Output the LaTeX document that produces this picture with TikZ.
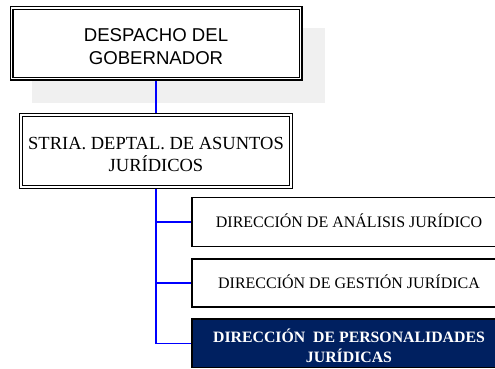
\documentclass[tikz,border=0pt]{standalone}
\usepackage{fontspec}
\setmainfont{Liberation Serif}
\newfontfamily\arialf{Liberation Sans}
\definecolor{navy}{HTML}{002060}
\definecolor{shadowgray}{HTML}{F0F0F0}
\begin{document}
\begin{tikzpicture}[x=1pt,y=-1pt,
  dbox/.style={draw=black, line width=1.1pt, double=white, double distance=1.8pt,
    fill=white, inner sep=0pt, outer sep=2pt, align=center},
  cbox/.style={draw=black, line width=1.3pt, fill=white, inner sep=0pt, outer sep=0.65pt,
    minimum width=314pt, align=center, font={\fontsize{16pt}{19pt}\selectfont}},
  link/.style={draw=blue, line width=1.3pt}]
\useasboundingbox (0,0) rectangle (495,369);
\clip (0,0) rectangle (495,369);
\fill[shadowgray] (32,28) rectangle (325,103);
\node[dbox, minimum width=289pt, minimum height=70.5pt,
  font={\arialf\fontsize{18.6pt}{23.3pt}\selectfont}] (gob) at (156,43.25)
  {\rule{0pt}{20.3pt}DESPACHO DEL\\GOBERNADOR};
\node[dbox, minimum width=270pt, minimum height=72pt,
  font={\fontsize{18.5pt}{22.4pt}\selectfont}] (sec) at (156,151)
  {\rule{0pt}{18.6pt}STRIA. DEPTAL. DE ASUNTOS\\JURÍDICOS};
\node[cbox, minimum height=49pt, text height=10.6pt, text depth=0pt] (ana) at (349,222)
  {DIRECCIÓN DE ANÁLISIS JURÍDICO};
\node[cbox, minimum height=48pt, text height=10.6pt, text depth=0pt] (ges) at (349,283)
  {DIRECCIÓN DE GESTIÓN JURÍDICA};
\node[cbox, fill=navy, text=white, minimum height=48.7pt,
  font={\bfseries\fontsize{15.8pt}{20pt}\selectfont}] (per) at (349,343.4)
  {\rule{0pt}{17.5pt}DIRECCIÓN~ DE PERSONALIDADES\\JURÍDICAS};
\draw[link] (gob.south) -- (sec.north);
\draw[link] (sec.south) |- (per.west);
\draw[link] (sec.south |- ana.west) -- (ana.west);
\draw[link] (sec.south |- ges.west) -- (ges.west);
\end{tikzpicture}
\end{document}
